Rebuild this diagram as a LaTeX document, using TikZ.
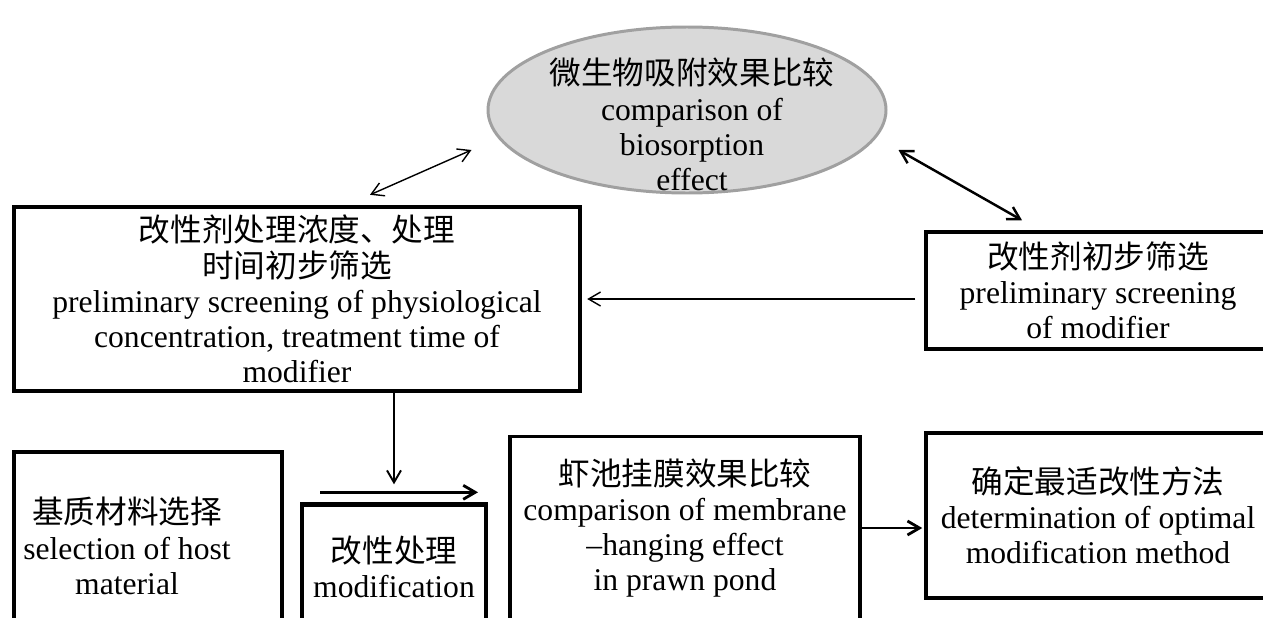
\documentclass[tikz,border=0pt]{standalone}
\usepackage{fontspec}
\setmainfont{Liberation Serif}
\newfontfamily\cjk{Noto Sans CJK SC}
\usepackage{tikz}
\usetikzlibrary{arrows.meta, positioning, calc, shapes.geometric}
\usepackage{xcolor}
\definecolor{grisclair}{RGB}{217,217,217}
\definecolor{grisbord}{RGB}{160,160,160}
\tikzset{
    boite/.style={draw, line width=2.5pt, align=center, inner sep=0pt},
    boite fine/.style={boite, line width=2pt},
    bulle/.style={ellipse, draw=grisbord, line width=1.7pt, fill=grisclair, inner sep=0pt},
    texte/.style={align=center, inner sep=0pt},
    fleche/.style={-{Straight Barb[length=2.4mm, width=2.8mm]}, line width=0.9pt},
    fleche double/.style={{Straight Barb[length=2.4mm, width=2.8mm]}-{Straight Barb[length=2.4mm, width=2.8mm]}},
}

\begin{document}
\begin{tikzpicture}[font=\fontsize{18pt}{20pt}\selectfont]
\useasboundingbox (0,0) rectangle (25.26,12.34);
\clip (0,0) rectangle (25.26,12.34);
% ellipse du haut
\node[bulle, minimum width=7.96cm, minimum height=3.32cm] (bio) at (13.74,10.14) {};
\node[texte] (bio texte) at (13.84,9.85)
    {{\cjk 微生物吸附效果比较}\\comparison of\\biosorption\\effect};
% boites du milieu
\node[boite, minimum width=11.32cm, minimum height=3.68cm] (traitement) at (5.94,6.36)
    {{\cjk 改性剂处理浓度、处理}\\{\cjk 时间初步筛选}\\preliminary screening of physiological\\concentration, treatment time of\\modifier};
\node[boite fine, minimum width=6.88cm, minimum height=2.34cm] (criblage) at (21.96,6.53)
    {{\cjk 改性剂初步筛选}\\preliminary screening\\of modifier};
% boites du bas
\node[boite, minimum width=5.36cm, minimum height=3.96cm] (hote) at (2.96,1.32) {};
\node[texte] (hote texte) at (2.54,1.42)
    {{\cjk 基质材料选择}\\selection of host\\material};
\node[boite, minimum width=3.68cm, minimum height=2.5cm] (modif) at (7.88,1.0)
    {{\cjk 改性处理}\\modification};
\node[boite fine, minimum width=7.0cm, minimum height=3.66cm] (bassin) at (13.70,1.78)
    {{\cjk 虾池挂膜效果比较}\\comparison of membrane\\–hanging effect\\in prawn pond};
\node[boite fine, minimum width=6.88cm, minimum height=3.3cm] (methode) at (21.96,2.03)
    {{\cjk 确定最适改性方法}\\determination of optimal\\modification method};
% fleches
\draw[fleche double, line width=0.8pt] ([xshift=1.46cm, yshift=0.2cm]traitement.north) -- ([xshift=-0.3cm, yshift=-0.8cm]bio.west);
\draw[fleche double, line width=1.4pt] ([xshift=0.22cm, yshift=-0.8cm]bio.east) -- ([xshift=-1.52cm, yshift=0.2cm]criblage.north);
\draw[fleche, line width=0.8pt] ([xshift=-0.18cm]criblage.west |- traitement.east) -- ([xshift=0.1cm]traitement.east);
\draw[fleche, line width=1.1pt] (traitement.south -| modif.north) -- ([yshift=0.36cm]modif.north);
\draw[fleche, line width=1.6pt] ([xshift=-1.48cm, yshift=0.2cm]modif.north) -- ([xshift=1.68cm, yshift=0.2cm]modif.north);
\draw[fleche, line width=1.6pt] (bassin.east) -- ([xshift=-0.04cm]bassin.east -| methode.west);
\end{tikzpicture}
\end{document}
